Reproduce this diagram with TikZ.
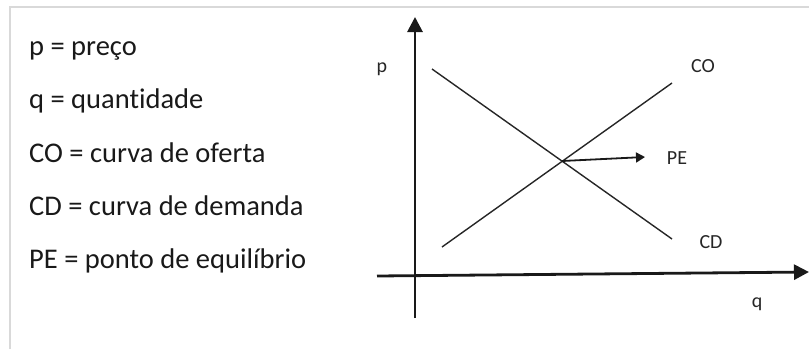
\documentclass[tikz,border=0pt]{standalone}
\usepackage{fontspec}
\setmainfont[Ligatures={NoCommon}]{Carlito}
\usetikzlibrary{arrows.meta}
\begin{document}
\begin{tikzpicture}[x=1pt,y=-1pt,
  legend/.style={anchor=base west,inner sep=0pt,text=black!90,font=\fontsize{28.5}{30}\selectfont},
  lab/.style={anchor=base,inner sep=0pt,text=black!85,font=\fontsize{20}{22}\selectfont},
  axis/.style={line width=2.8pt,black!90,-{Triangle[length=15pt,width=15pt]}},
  curve/.style={line width=1.4pt,black!85},
  frame/.style={line width=2pt,black!15}]
\useasboundingbox (0,0) rectangle (809,349);
% frame
\coordinate (f1) at (10,349);
\coordinate (f2) at (10,7);
\coordinate (f3) at (809,7);
\draw[frame] (f1) -- (f2) -- (f3);
% legend
\node[legend] (l1) at (29,55) {p = preço};
\node[legend] (l2) at (29,108.5) {q = quantidade};
\node[legend] (l3) at (29,162) {CO = curva de oferta};
\node[legend] (l4) at (29,215) {CD = curva de demanda};
\node[legend] (l5) at (29,268) {PE = ponto de equilíbrio};
% axes
\coordinate (vb) at (415,318);
\coordinate (vt) at (415,17);
\coordinate (hl) at (377,276);
\coordinate (hr) at (809,272);
\draw[axis] (vb) -- (vt);
\draw[axis] (hl) -- (hr);
% curves
\coordinate (cd1) at (432,69);
\coordinate (cd2) at (672,239);
\coordinate (co1) at (442,247);
\coordinate (co2) at (672,83);
\draw[curve] (cd1) -- (cd2);
\draw[curve] (co1) -- (co2);
% equilibrium
\coordinate (eq) at (562,161);
\coordinate (pa) at (645,157);
\draw[line width=1.8pt,black!90,-{Triangle[length=9pt,width=10pt]}] (eq) -- (pa);
% labels
\node[lab] (p) at (382,72) {p};
\node[lab] (co) at (703,72) {CO};
\node[lab] (pe) at (677,164) {PE};
\node[lab] (cd) at (711,248) {CD};
\node[lab] (q) at (757,307) {q};
\end{tikzpicture}
\end{document}
